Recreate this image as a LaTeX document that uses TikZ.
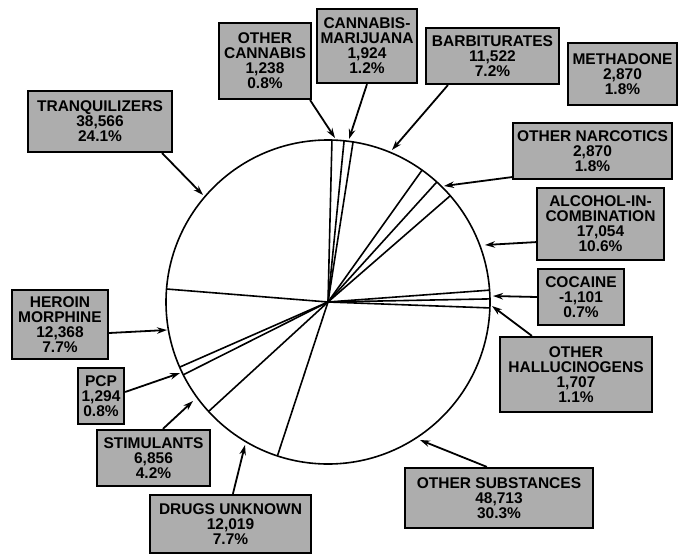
\documentclass[tikz,border=0pt]{standalone}
\usepackage{fontspec}
\setmainfont{Liberation Sans}
\usetikzlibrary{calc,arrows.meta}
\begin{document}
\begin{tikzpicture}[x=1pt,y=-1pt,
  lbl/.style={draw=black,line width=2.2pt,fill=black!32,align=center,
    font=\bfseries\fontsize{15.5}{15}\selectfont,inner sep=0pt},
  arr/.style={line width=1.8pt,-{Stealth[length=10pt,width=6.5pt]}},
  pieline/.style={line width=1.6pt}]
\useasboundingbox (0,0) rectangle (679,556);
% pie
\coordinate (c) at (328,302);
\draw[pieline] (c) circle[radius=162];
\foreach \a in {88.6,84.3,81.1,54.5,47.8,41.0,4.2,1.1,-2.1,-108.2,-137.5,-153.3,-156.3,175.4}
  \draw[pieline] (c) -- ++(-\a:162);
% boxes
\node[lbl,minimum width=144pt,minimum height=61pt] (tranq) at (100,121.5) {TRANQUILIZERS\\38,566\\24.1\%};
\node[lbl,minimum width=92pt,minimum height=76pt] (ocann) at (265,61) {OTHER\\CANNABIS\\1,238\\0.8\%};
\node[lbl,minimum width=100pt,minimum height=74pt] (cmar) at (367,46) {CANNABIS-\\MARIJUANA\\1,924\\1.2\%};
\node[lbl,minimum width=133pt,minimum height=56pt] (barb) at (492.5,56) {BARBITURATES\\11,522\\7.2\%};
\node[lbl,minimum width=109pt,minimum height=62pt] (meth) at (622.5,74) {METHADONE\\2,870\\1.8\%};
\node[lbl,minimum width=159pt,minimum height=56pt] (onarc) at (592.5,151) {OTHER NARCOTICS\\2,870\\1.8\%};
\node[lbl,minimum width=127pt,minimum height=72pt] (alc) at (600.5,224) {ALCOHOL-IN-\\COMBINATION\\17,054\\10.6\%};
\node[lbl,minimum width=86pt,minimum height=56pt] (coc) at (581,297) {COCAINE\\-1,101\\0.7\%};
\node[lbl,minimum width=152pt,minimum height=75pt] (hall) at (576,374.5) {OTHER\\HALLUCINOGENS\\1,707\\1.1\%};
\node[lbl,minimum width=188pt,minimum height=60pt] (osub) at (499,498) {OTHER SUBSTANCES\\48,713\\30.3\%};
\node[lbl,minimum width=161pt,minimum height=58pt] (dunk) at (230.5,524) {DRUGS UNKNOWN\\12,019\\7.7\%};
\node[lbl,minimum width=113pt,minimum height=56pt] (stim) at (153.5,458) {STIMULANTS\\6,856\\4.2\%};
\node[lbl,minimum width=46pt,minimum height=56pt] (pcp) at (101,396) {PCP\\1,294\\0.8\%};
\node[lbl,minimum width=96pt,minimum height=69pt] (her) at (60,324.5) {HEROIN\\MORPHINE\\12,368\\7.7\%};
% arrow targets on the circle
\coordinate (tTranq) at (203,195);
\coordinate (tOcann) at (335,138);
\coordinate (tCmar) at (349,139);
\coordinate (tBarb) at (392,150);
\coordinate (tOnarc) at (444,186);
\coordinate (tAlc) at (485,245);
\coordinate (tCoc) at (493,296);
\coordinate (tHall) at (492,306);
\coordinate (tOsub) at (420,440);
\coordinate (tDunk) at (245,445);
\coordinate (tStim) at (193,401);
\coordinate (tPcp) at (180,373);
\coordinate (tHer) at (167,330);
% arrows
\draw[arr] ($(tranq.south east)+(-11,0)$) -- (tTranq);
\draw[arr] ($(ocann.south east)+(-2,0)$) -- (tOcann);
\draw[arr] (cmar.south) -- (tCmar);
\draw[arr] ($(barb.south west)+(23,0)$) -- (tBarb);
\draw[arr] ($(onarc.south west)+(0,-3)$) -- (tOnarc);
\draw[arr] ($(alc.south west)+(0,-19)$) -- (tAlc);
\draw[arr] (coc.west) -- (tCoc);
\draw[arr] ($(hall.north west)+(33,0)$) -- (tHall);
\draw[arr] ($(osub.north west)+(83,0)$) -- (tOsub);
\draw[arr] ($(dunk.north west)+(84,0)$) -- (tDunk);
\draw[arr] ($(stim.north west)+(67,0)$) -- (tStim);
\draw[arr] ($(pcp.east)+(0,-4)$) -- (tPcp);
\draw[arr] ($(her.east)+(0,8.5)$) -- (tHer);
\end{tikzpicture}
\end{document}
